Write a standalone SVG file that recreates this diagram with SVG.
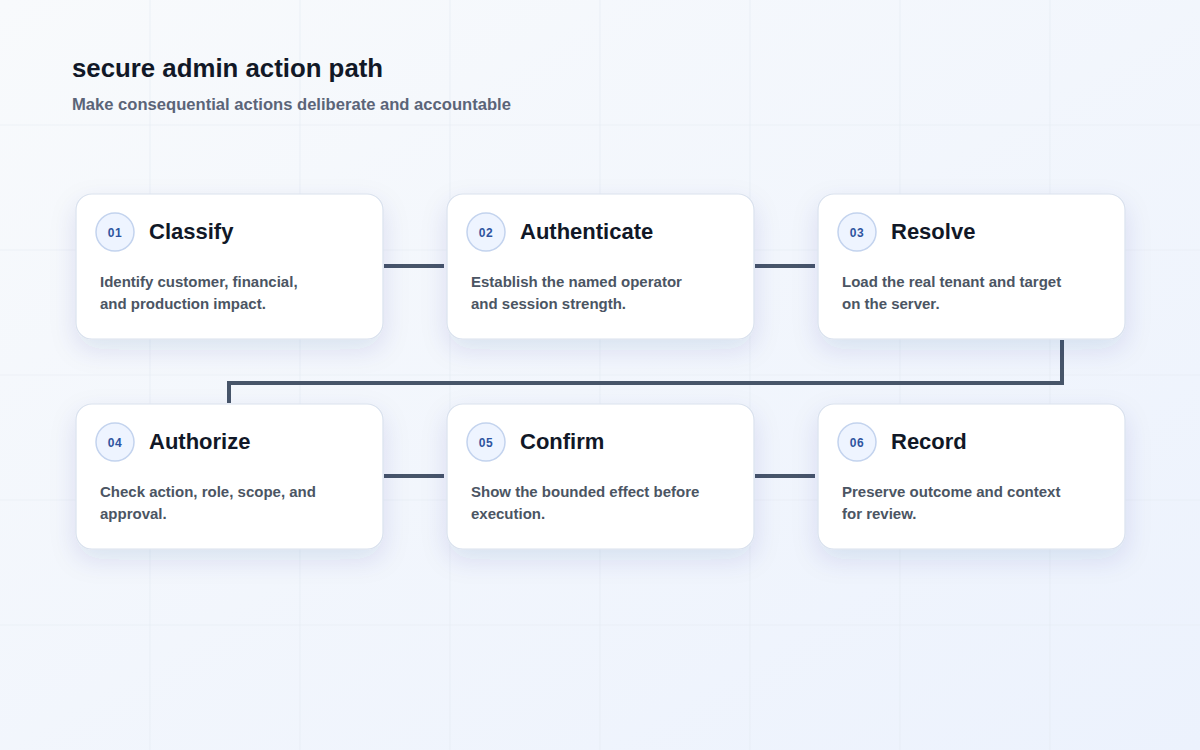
<svg xmlns="http://www.w3.org/2000/svg" width="1200" height="750" viewBox="0 0 1200 750">
  <defs>
    <linearGradient id="bg" x1="0" y1="0" x2="1" y2="1">
      <stop offset="0" stop-color="#f8fafc"/>
      <stop offset="1" stop-color="#ecf2fd"/>
    </linearGradient>
    <filter id="shadow" x="-25%" y="-30%" width="150%" height="180%">
      <feDropShadow dx="0" dy="10" stdDeviation="13" flood-color="#1e3a8a" flood-opacity="0.11"/>
    </filter>
    <style>
      .grid { stroke: #e3e9f2; stroke-width: 1.2; opacity: 0.5; }
      .card { fill: #ffffff; stroke: #d9e1ee; stroke-width: 1.2; filter: url(#shadow); }
      .badge { fill: #eef4ff; stroke: #c3d3ee; stroke-width: 1.5; }
      .num { font-family: "Liberation Sans", Arial, sans-serif; font-weight: 700; font-size: 12px; fill: #2f54a0; text-anchor: middle; letter-spacing: 0.5px; }
      .title { font-family: "Liberation Sans", Arial, sans-serif; font-weight: 700; font-size: 22px; fill: #111827; }
      .desc { font-family: "Liberation Sans", Arial, sans-serif; font-weight: 700; font-size: 15px; fill: #4b5563; }
      .conn { fill: none; stroke: #475569; stroke-width: 4; }
    </style>
  </defs>
  <rect width="1200" height="750" fill="url(#bg)"/>
  <g id="grid">
    <line class="grid" x1="150" y1="0" x2="150" y2="750"/>
    <line class="grid" x1="300" y1="0" x2="300" y2="750"/>
    <line class="grid" x1="450" y1="0" x2="450" y2="750"/>
    <line class="grid" x1="600" y1="0" x2="600" y2="750"/>
    <line class="grid" x1="750" y1="0" x2="750" y2="750"/>
    <line class="grid" x1="900" y1="0" x2="900" y2="750"/>
    <line class="grid" x1="1050" y1="0" x2="1050" y2="750"/>
    <line class="grid" x1="0" y1="125" x2="1200" y2="125"/>
    <line class="grid" x1="0" y1="250" x2="1200" y2="250"/>
    <line class="grid" x1="0" y1="375" x2="1200" y2="375"/>
    <line class="grid" x1="0" y1="500" x2="1200" y2="500"/>
    <line class="grid" x1="0" y1="625" x2="1200" y2="625"/>
  </g>
  <g id="header">
    <text x="72" y="77" font-family="Liberation Sans, Arial, sans-serif" font-weight="700" font-size="25.8" fill="#111827">secure admin action path</text>
    <text x="72" y="110" font-family="Liberation Sans, Arial, sans-serif" font-weight="700" font-size="16.6" fill="#5b6478">Make consequential actions deliberate and accountable</text>
  </g>
  <g id="connectors">
    <line class="conn" x1="384" y1="266" x2="444" y2="266"/>
    <line class="conn" x1="755" y1="266" x2="815" y2="266"/>
    <path class="conn" d="M1062,340 V383 H229 V403"/>
    <line class="conn" x1="384" y1="476" x2="444" y2="476"/>
    <line class="conn" x1="755" y1="476" x2="815" y2="476"/>
  </g>
  <g id="step-01">
    <rect class="card" x="76" y="194" width="307" height="145" rx="16"/>
    <circle class="badge" cx="115" cy="232" r="19"/>
    <text class="num" x="115" y="236.5">01</text>
    <text class="title" x="149" y="239">Classify</text>
    <text class="desc" x="100" y="287">Identify customer, financial,</text>
    <text class="desc" x="100" y="309">and production impact.</text>
  </g>
  <g id="step-02">
    <rect class="card" x="447" y="194" width="307" height="145" rx="16"/>
    <circle class="badge" cx="486" cy="232" r="19"/>
    <text class="num" x="486" y="236.5">02</text>
    <text class="title" x="520" y="239">Authenticate</text>
    <text class="desc" x="471" y="287">Establish the named operator</text>
    <text class="desc" x="471" y="309">and session strength.</text>
  </g>
  <g id="step-03">
    <rect class="card" x="818" y="194" width="307" height="145" rx="16"/>
    <circle class="badge" cx="857" cy="232" r="19"/>
    <text class="num" x="857" y="236.5">03</text>
    <text class="title" x="891" y="239">Resolve</text>
    <text class="desc" x="842" y="287">Load the real tenant and target</text>
    <text class="desc" x="842" y="309">on the server.</text>
  </g>
  <g id="step-04">
    <rect class="card" x="76" y="404" width="307" height="145" rx="16"/>
    <circle class="badge" cx="115" cy="442" r="19"/>
    <text class="num" x="115" y="446.5">04</text>
    <text class="title" x="149" y="449">Authorize</text>
    <text class="desc" x="100" y="497">Check action, role, scope, and</text>
    <text class="desc" x="100" y="519">approval.</text>
  </g>
  <g id="step-05">
    <rect class="card" x="447" y="404" width="307" height="145" rx="16"/>
    <circle class="badge" cx="486" cy="442" r="19"/>
    <text class="num" x="486" y="446.5">05</text>
    <text class="title" x="520" y="449">Confirm</text>
    <text class="desc" x="471" y="497">Show the bounded effect before</text>
    <text class="desc" x="471" y="519">execution.</text>
  </g>
  <g id="step-06">
    <rect class="card" x="818" y="404" width="307" height="145" rx="16"/>
    <circle class="badge" cx="857" cy="442" r="19"/>
    <text class="num" x="857" y="446.5">06</text>
    <text class="title" x="891" y="449">Record</text>
    <text class="desc" x="842" y="497">Preserve outcome and context</text>
    <text class="desc" x="842" y="519">for review.</text>
  </g>
</svg>
